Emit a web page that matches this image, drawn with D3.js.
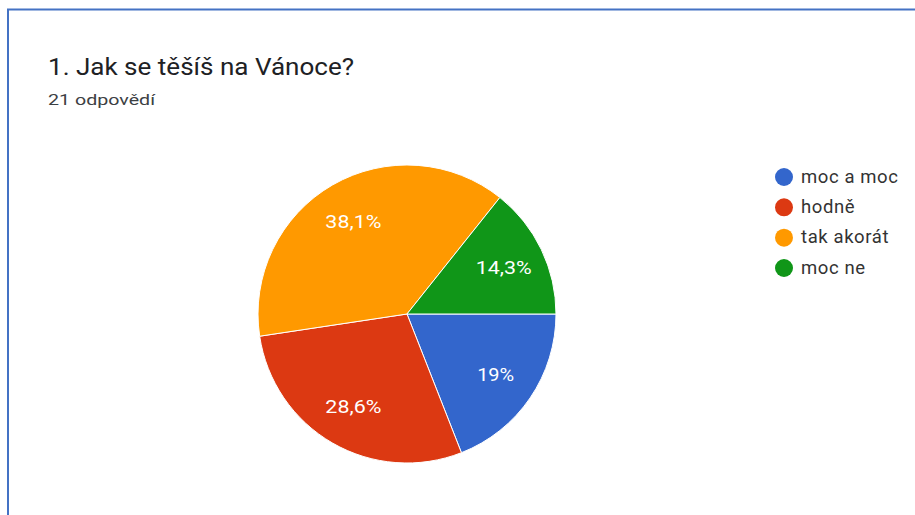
<!DOCTYPE html>
<html><head><meta charset="utf-8">
<script src="https://cdn.jsdelivr.net/npm/d3@7"></script>
<style>body{margin:0;background:#fff;}svg{display:block;font-family:Roboto,Arial,sans-serif;}</style>
</head><body>
<svg id="c" width="915" height="515"></svg>
<script>
const categories = ["moc a moc", "hodně", "tak akorát", "moc ne"];
const counts = [4, 6, 8, 3];
const percentLabels = ["19%", "28,6%", "38,1%", "14,3%"];
const colors = ["#3366cc", "#dc3912", "#ff9900", "#109618"];
const title = "1. Jak se těšíš na Vánoce?";
const subtitle = "21 odpovědí";

const svg = d3.select("#c");
// frame border
svg.append("rect").attr("x", 8).attr("y", 9.5).attr("width", 920).attr("height", 520)
  .attr("fill", "none").attr("stroke", "#4472c4").attr("stroke-width", 2);

svg.append("text").attr("x", 48).attr("y", 75).attr("font-size", 23).attr("fill", "#202124")
  .attr("textLength", 306).attr("lengthAdjust", "spacingAndGlyphs").text(title);
svg.append("text").attr("x", 48).attr("y", 105).attr("font-size", 15).attr("fill", "#3c4043")
  .attr("textLength", 107).attr("lengthAdjust", "spacingAndGlyphs").text(subtitle);

const cx = 407, cy = 314, r = 149;
const pie = d3.pie().sort(null).startAngle(Math.PI/2).endAngle(Math.PI/2 + 2*Math.PI);
const arcs = pie(counts);
const arc = d3.arc().innerRadius(0).outerRadius(r);
const labelArc = d3.arc().innerRadius(r*0.72).outerRadius(r*0.72);
const g = svg.append("g").attr("transform", `translate(${cx},${cy})`);
g.selectAll("path").data(arcs).join("path")
  .attr("d", arc).attr("fill", (d,i) => colors[i]).attr("stroke", "#fff").attr("stroke-width", 1);
g.selectAll("text").data(arcs).join("text")
  .attr("transform", d => { const c = labelArc.centroid(d); return `translate(${c[0]},${c[1] + 6.5})`; })
  .attr("text-anchor", "middle")
  .attr("font-size", 18).attr("fill", "#fff")
  .attr("textLength", (d,i) => percentLabels[i].length === 3 ? 37 : 56)
  .attr("lengthAdjust", "spacingAndGlyphs")
  .text((d,i) => percentLabels[i]);

const leg = svg.append("g");
const ly = d3.scaleLinear().domain([0, 3]).range([177, 268]);
categories.forEach((c, i) => {
  leg.append("circle").attr("cx", 784).attr("cy", ly(i)).attr("r", 9).attr("fill", colors[i]);
  leg.append("text").attr("x", 801).attr("y", ly(i) + 5.5)
    .attr("font-size", 18.5).attr("letter-spacing", 0.6).attr("fill", "#333").text(c);
});
</script>
</body></html>
